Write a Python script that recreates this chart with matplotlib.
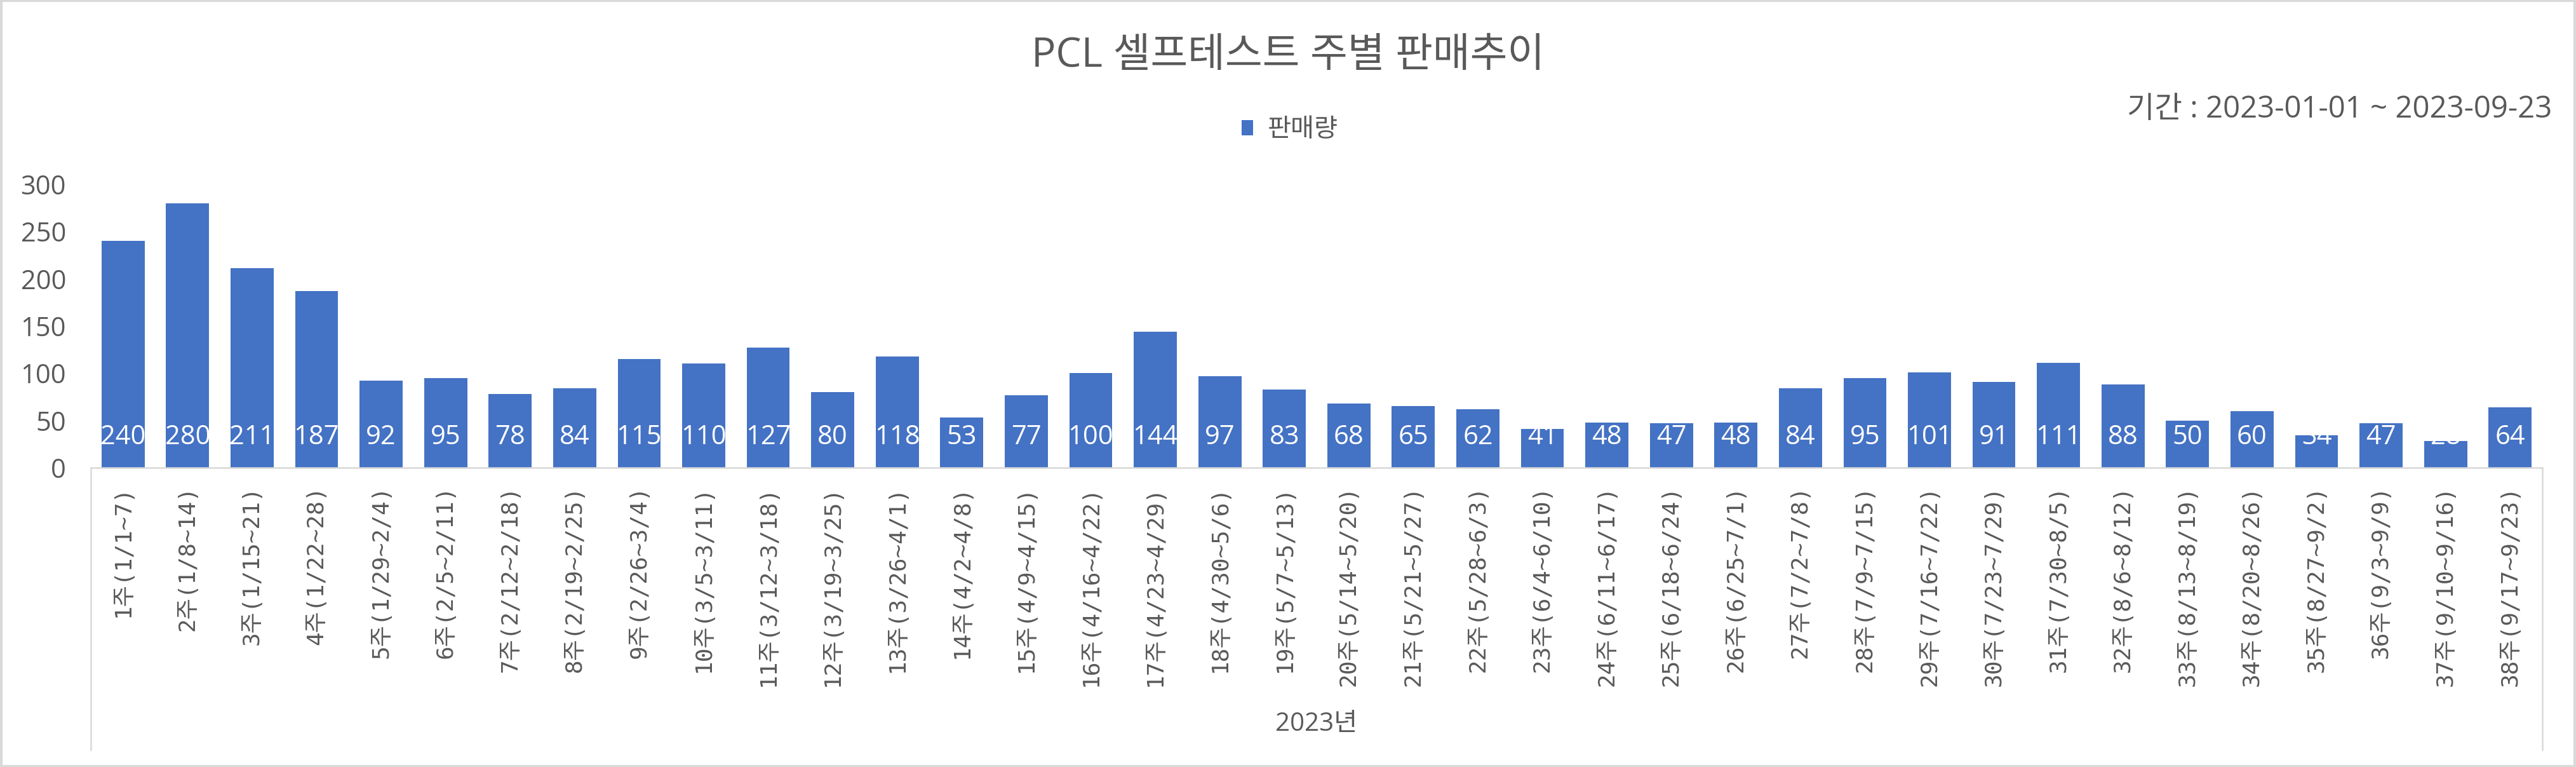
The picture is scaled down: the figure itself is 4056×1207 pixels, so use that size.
import matplotlib
matplotlib.use("Agg")
import matplotlib.pyplot as plt
from matplotlib.lines import Line2D
from matplotlib.patches import Rectangle

plt.rcParams['font.family'] = ['Open Sans', 'Noto Sans CJK KR', 'DejaVu Sans']

weeks = ['1주(1/1~7)', '2주(1/8~14)', '3주(1/15~21)', '4주(1/22~28)', '5주(1/29~2/4)',
         '6주(2/5~2/11)', '7주(2/12~2/18)', '8주(2/19~2/25)', '9주(2/26~3/4)',
         '10주(3/5~3/11)', '11주(3/12~3/18)', '12주(3/19~3/25)', '13주(3/26~4/1)',
         '14주(4/2~4/8)', '15주(4/9~4/15)', '16주(4/16~4/22)', '17주(4/23~4/29)',
         '18주(4/30~5/6)', '19주(5/7~5/13)', '20주(5/14~5/20)', '21주(5/21~5/27)',
         '22주(5/28~6/3)', '23주(6/4~6/10)', '24주(6/11~6/17)', '25주(6/18~6/24)',
         '26주(6/25~7/1)', '27주(7/2~7/8)', '28주(7/9~7/15)', '29주(7/16~7/22)',
         '30주(7/23~7/29)', '31주(7/30~8/5)', '32주(8/6~8/12)', '33주(8/13~8/19)',
         '34주(8/20~8/26)', '35주(8/27~9/2)', '36주(9/3~9/9)', '37주(9/10~9/16)',
         '38주(9/17~9/23)']
sales = [240, 280, 211, 187, 92, 95, 78, 84, 115, 110, 127, 80, 118, 53, 77, 100, 144,
         97, 83, 68, 65, 62, 41, 48, 47, 48, 84, 95, 101, 91, 111, 88, 50, 60, 34, 47, 28, 64]
yticks = [0, 50, 100, 150, 200, 250, 300]

W, H = 4056, 1207
grey = '#595959'
line_grey = '#D9D9D9'

fig = plt.figure(figsize=(W / 100, H / 100), dpi=100)
ax = fig.add_axes([143 / W, 1 - 736 / H, (4003 - 143) / W, (736 - 290) / H])

x = list(range(len(sales)))
ax.bar(x, sales, width=0.667, color='#4472C4', label='판매량', zorder=2)
ax.set_xlim(-0.5, len(sales) - 0.5)
ax.set_ylim(0, 300)
ax.set_yticks(yticks)
ax.set_xticks(x)
ax.set_xticklabels(weeks, rotation=90, fontsize=26, color=grey,
                   family=['DejaVu Sans Mono', 'Noto Sans CJK KR'])
ax.tick_params(axis='x', length=0, pad=20)
ax.tick_params(axis='y', length=0, pad=28, labelsize=30, labelcolor=grey)

for s in ['top', 'right', 'left']:
    ax.spines[s].set_visible(False)
ax.spines['bottom'].set_color(line_grey)
ax.spines['bottom'].set_linewidth(1.8)

# data labels sit near the base of each bar
for i, v in enumerate(sales):
    ax.annotate(str(v), xy=(i, 0), xytext=(0, 34.5), textcoords='offset points',
                ha='center', va='center', color='white', fontsize=30, zorder=3)

# category group box lines
for xp in [143 / W, 4003 / W]:
    fig.add_artist(Line2D([xp, xp], [1 - 736 / H, 1 - 1180 / H], color=line_grey, lw=1.8))

fig.text(2073 / W, 1 - 1140 / H, '2023년', ha='center', va='center', fontsize=29, color=grey)

fig.text(0.5, 1 - 88 / H, 'PCL 셀프테스트 주별 판매추이', ha='center', va='center',
         fontsize=46, color=grey)
fig.text(4018 / W, 1 - 172 / H, '기간 : 2023-01-01 ~ 2023-09-23', ha='right', va='center',
         fontsize=34, color=grey)

fig.legend(loc='center', bbox_to_anchor=(2031 / W, 1 - 205 / H), frameon=False,
           fontsize=29, handlelength=0.45, handleheight=0.55, handletextpad=0.55,
           labelcolor=grey)

# chart area border
fig.add_artist(Rectangle((0.0005, 0.001), 0.999, 0.998, transform=fig.transFigure,
                         fill=False, edgecolor=line_grey, lw=3))

fig.savefig('out.png', dpi=100)
